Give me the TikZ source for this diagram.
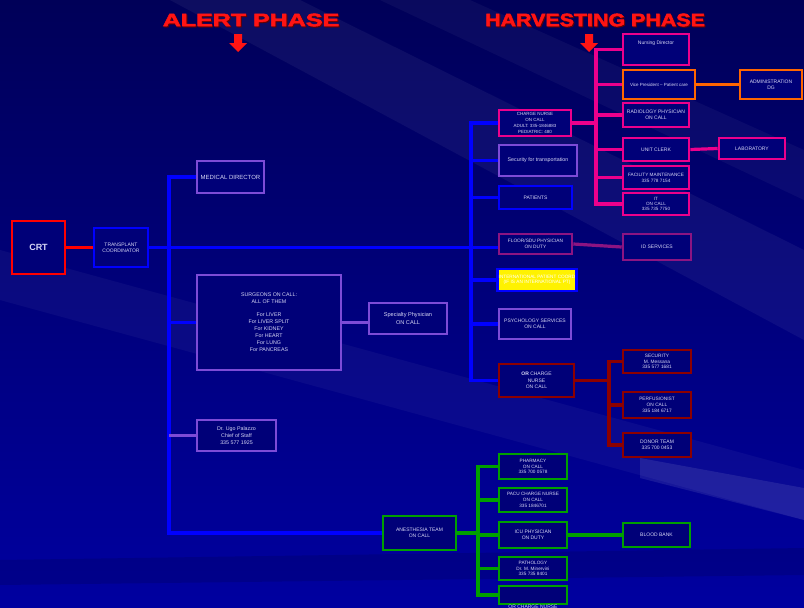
\documentclass[tikz,border=0pt]{standalone}
\usepackage{graphicx}
\usepackage{fontspec}
\setmainfont{Liberation Sans}
\newfontfamily\heavyfont{Liberation Sans Bold}[FakeBold=2.5]
\usetikzlibrary{positioning,calc}

\definecolor{bgtop}{RGB}{0,0,88}
\definecolor{bgbot}{RGB}{0,0,160}
\definecolor{boxfill}{RGB}{0,0,120}
\definecolor{boxtext}{RGB}{215,215,245}
\definecolor{titlered}{RGB}{255,20,20}
\definecolor{purp}{RGB}{125,75,215}
\definecolor{dmag}{RGB}{140,20,130}
\definecolor{dred}{RGB}{140,0,0}
\definecolor{grn}{RGB}{0,160,0}
\definecolor{orng}{RGB}{255,102,0}

\newcommand\boxfont{\fontsize{5}{6.4}\selectfont}

\tikzset{
  box/.style={draw, line width=2.6pt, fill=boxfill, text=boxtext, font=\boxfont,
    align=center, inner sep=1pt},
  title/.style={text=titlered, font=\fontsize{18}{18}\heavyfont, inner sep=0pt},
  conn/.style={line width=3.2pt},
  blueline/.style={conn, draw=blue},
  redline/.style={conn, draw=red},
  purpline/.style={conn, draw=purp},
  magline/.style={conn, draw=magenta},
  dmagline/.style={conn, draw=dmag},
  dredline/.style={conn, draw=dred},
  grnline/.style={conn, draw=grn},
  orngline/.style={conn, draw=orng}
}

\begin{document}
\begin{tikzpicture}[x=1pt,y=-1pt]
    % background with light streaks
    \useasboundingbox (0,0) rectangle (804,608);
    \clip (0,0) rectangle (804,608);
    \shade[top color=bgtop, bottom color=bgbot] (0,0) rectangle (804,608);
    \fill[white, opacity=0.05] (170,0) -- (300,0) -- (804,250) -- (804,340) -- cycle;
    \fill[white, opacity=0.04] (380,0) -- (470,0) -- (804,150) -- (804,200) -- cycle;
    \fill[white, opacity=0.04] (0,250) -- (0,300) -- (804,520) -- (804,470) -- cycle;
    \fill[white, opacity=0.09] (640,458) -- (804,488) -- (804,520) -- (640,478) -- cycle;
    \fill[black, opacity=0.12] (0,560) -- (804,548) -- (804,575) -- (0,585) -- cycle;

    % phase titles
    \node[title, text=black!60!red] at (252,21) {\scalebox{1.39}[1]{ALERT PHASE}};
    \node[title] (alert) at (251,20) {\scalebox{1.39}[1]{ALERT PHASE}};
    \node[title, text=black!60!red] at (596,21) {\scalebox{1.19}[1]{HARVESTING PHASE}};
    \node[title] (harv) at (595,20) {\scalebox{1.19}[1]{HARVESTING PHASE}};
    \coordinate (alertarr) at (238,34);
    \coordinate (harvarr) at (589,34);
    \foreach \a in {alertarr,harvarr}
        \fill[titlered] ([xshift=-4pt]\a) -- ++(8,0) -- ++(0,9) -- ++(5,0)
            -- ++(-9,9) -- ++(-9,-9) -- ++(5,0) -- cycle;

    % alert phase
    \node[box, draw=red, minimum width=53, minimum height=53, font=\fontsize{9}{9}\selectfont\bfseries] (crt) at (38.5,247.5) {CRT};
    \node[box, draw=blue, minimum width=54, minimum height=39] (tc) at (121,247.5) {TRANSPLANT\\COORDINATOR};
    \node[box, draw=purp, minimum width=67, minimum height=32, font=\fontsize{6}{7}\selectfont] (md) at (230.5,177) {MEDICAL DIRECTOR};
    \node[box, draw=purp, minimum width=144, minimum height=95, font=\fontsize{5.3}{7}\selectfont] (surg) at (269,322.5)
        {SURGEONS ON CALL:\\ALL OF THEM\\[6pt] For LIVER\\For LIVER SPLIT\\For KIDNEY\\For HEART\\For LUNG\\For PANCREAS};
    \node[box, draw=purp, minimum width=78, minimum height=31, font=\fontsize{5.6}{8}\selectfont] (spec) at (408,318.5) {Specialty Physician\\ON CALL};
    \node[box, draw=purp, minimum width=79, minimum height=31, font=\fontsize{5.3}{7}\selectfont] (ugo) at (236.5,435.5) {Dr. Ugo Palazzo\\Chief of Staff\\335 577 1925};
    \node[box, draw=grn, minimum width=73, minimum height=34] (anest) at (419.5,533) {ANESTHESIA TEAM\\ON CALL};

    % harvesting phase, middle column
    \node[box, draw=magenta, minimum width=72, minimum height=26, font=\fontsize{4.5}{5.8}\selectfont] (cn) at (535,123)
        {CHARGE NURSE\\ON CALL\\ADULT: 335-1846883\\PEDIATRIC: 480};
    \node[box, draw=purp, minimum width=78, minimum height=31, font=\fontsize{5.3}{6}\selectfont] (sect) at (538,160.5) {Security for transportation};
    \node[box, draw=blue, minimum width=73, minimum height=23] (pat) at (535.5,197.5) {PATIENTS};
    \node[box, draw=dmag, minimum width=73, minimum height=20, font=\fontsize{4.8}{5.6}\selectfont] (floor) at (535.5,244) {FLOOR/SDU PHYSICIAN\\ON DUTY};
    \node[box, draw=blue, fill=yellow, text=white, minimum width=76, minimum height=22, font=\fontsize{4.7}{5.6}\selectfont] (intl) at (537,280)
        {INTERNATIONAL PATIENT COORD\\(IF IS AN INTERNATIONAL PT)};
    \node[box, draw=purp, minimum width=72, minimum height=30] (psy) at (535,324) {PSYCHOLOGY SERVICES\\ON CALL};
    \node[box, draw=dred, minimum width=75, minimum height=33] (orc) at (536.5,380.5) {\textbf{OR} CHARGE\\NURSE\\ON CALL};
    \node[box, draw=grn, minimum width=68, minimum height=25, font=\fontsize{4.7}{5.8}\selectfont] (pharm) at (533,466.5) {PHARMACY\\ON CALL\\335 700 0578};
    \node[box, draw=grn, minimum width=68, minimum height=24, font=\fontsize{4.7}{5.8}\selectfont] (pacu) at (533,500) {PACU CHARGE NURSE\\ON CALL\\335 1846701};
    \node[box, draw=grn, minimum width=68, minimum height=26] (icu) at (533,535) {ICU PHYSICIAN\\ON DUTY};
    \node[box, draw=grn, minimum width=68, minimum height=23, font=\fontsize{4.7}{5.6}\selectfont] (path) at (533,568.5) {PATHOLOGY\\Dr. M. Minervini\\335 735 8401};
    \node[box, draw=grn, minimum width=68, minimum height=18] (orb) at (533,595) {};
    \node[text=boxtext, font=\boxfont, inner sep=0pt] (orbtxt) at (533,606.5) {OR CHARGE NURSE};

    % harvesting phase, right column
    \node[box, draw=magenta, minimum width=66, minimum height=31] (nd) at (656,49.5) {Nursing Director\\[8pt]};
    \node[box, draw=orng, minimum width=72, minimum height=29, font=\fontsize{4.5}{5.5}\selectfont] (vp) at (659,84.5) {Vice President -- Patient care};
    \node[box, draw=orng, minimum width=62, minimum height=29] (adm) at (771,84.5) {ADMINISTRATION\\DG};
    \node[box, draw=magenta, minimum width=66, minimum height=24] (rad) at (656,115) {RADIOLOGY PHYSICIAN\\ON CALL};
    \node[box, draw=magenta, minimum width=66, minimum height=23] (uc) at (656,149.5) {UNIT CLERK};
    \node[box, draw=magenta, minimum width=66, minimum height=23, font=\fontsize{4.7}{6}\selectfont] (fac) at (656,177.5) {FACILITY MAINTENANCE\\335 778 7154};
    \node[box, draw=magenta, minimum width=66, minimum height=22, font=\fontsize{4.6}{5.4}\selectfont] (it) at (656,204) {IT\\ON CALL\\335 735 7750};
    \node[box, draw=magenta, minimum width=66, minimum height=21] (lab) at (752,148.5) {LABORATORY};
    \node[box, draw=dmag, minimum width=68, minimum height=26] (ids) at (657,247) {ID SERVICES};
    \node[box, draw=dred, minimum width=68, minimum height=23, font=\fontsize{4.8}{5.8}\selectfont] (secu) at (657,361.5) {SECURITY\\M. Messana\\335 577 1681};
    \node[box, draw=dred, minimum width=68, minimum height=26, font=\fontsize{4.8}{5.8}\selectfont] (perf) at (657,405) {PERFUSIONIST\\ON CALL\\335 184 6717};
    \node[box, draw=dred, minimum width=68, minimum height=24] (donor) at (657,445) {DONOR TEAM\\335 700 0453};
    \node[box, draw=grn, minimum width=67, minimum height=24] (bb) at (656.5,535) {BLOOD BANK};

    % left trunk
    \coordinate (trunkL) at (169,0);
    \draw[redline] (crt.east) -- (tc.west);
    \draw[blueline] (tc.east) -- (tc.east -| floor.west);
    \draw[blueline] (md.west) -| (trunkL |- anest.west) -- (anest.west);
    \draw[blueline] (trunkL |- surg.west) -- (surg.west);
    \draw[purpline] (trunkL |- ugo.west) -- (ugo.west);
    \draw[purpline] (surg.east) -- (surg.east -| spec.west);

    % middle trunk
    \coordinate (trunkM) at (471,0);
    \draw[blueline] (cn.west) -| (trunkM |- orc.west) -- (orc.west);
    \foreach \n in {sect,pat,intl,psy}
        \draw[blueline] (trunkM |- \n.west) -- (\n.west);
    \draw[dmagline] (floor.east) -- (ids.west);

    % charge nurse branch
    \coordinate (trunkR) at (596,0);
    \draw[magline] (cn.east) -- (cn.east -| trunkR);
    \draw[magline] (nd.west) -| (trunkR |- it.west) -- (it.west);
    \foreach \n in {vp,rad,uc,fac}
        \draw[magline] (trunkR |- \n.west) -- (\n.west);
    \draw[orngline] (vp.east) -- (adm.west);
    \draw[magline] (uc.east) -- (lab.west);

    % OR charge nurse branch
    \coordinate (trunkO) at (609,0);
    \draw[dredline] (orc.east) -- (orc.east -| trunkO);
    \draw[dredline] (secu.west) -| (trunkO |- donor.west) -- (donor.west);
    \draw[dredline] (trunkO |- perf.west) -- (perf.west);

    % anesthesia branch
    \coordinate (trunkG) at (478,0);
    \draw[grnline] (anest.east) -- (anest.east -| trunkG);
    \draw[grnline] (pharm.west) -| (trunkG |- orb.west) -- (orb.west);
    \foreach \n in {pacu,icu,path}
        \draw[grnline] (trunkG |- \n.west) -- (\n.west);
    \draw[grnline] (icu.east) -- (bb.west);
\end{tikzpicture}
\end{document}
